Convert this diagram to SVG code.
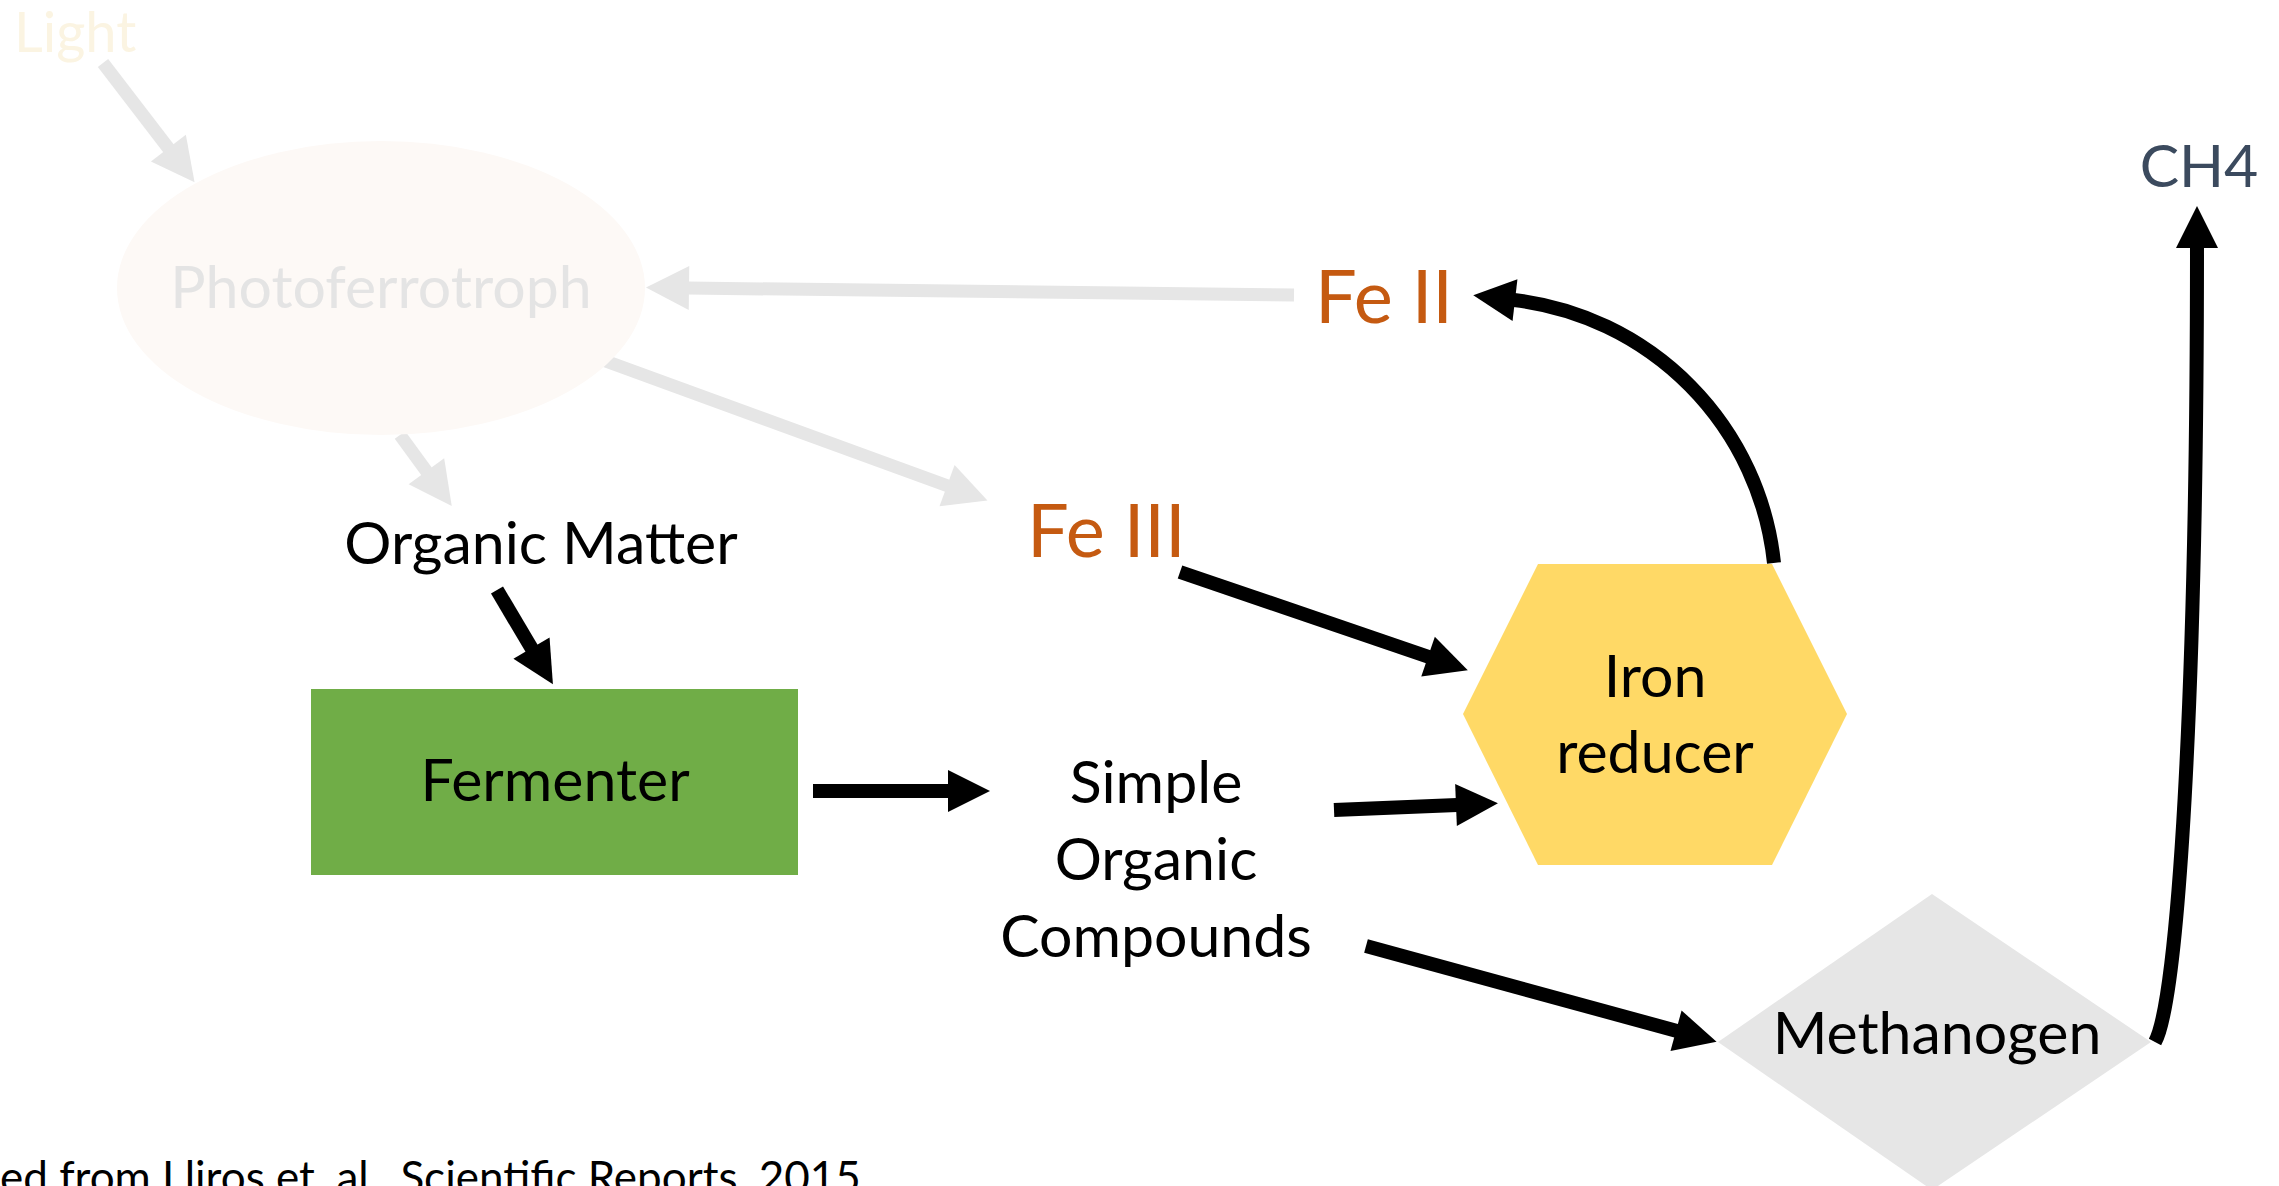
<svg xmlns="http://www.w3.org/2000/svg" width="2279" height="1186" viewBox="0 0 2279 1186">
  <style>
    text { font-family: Lato, "Open Sans", "Liberation Sans", sans-serif; }
    .lbl { font-size: 59px; fill: #000000; }
    .mid { text-anchor: middle; }
    .fe { font-size: 74px; fill: #C55A11; }
    .faded { fill: #E4E4E4; }
    .gray { fill: none; stroke: #E6E6E6; stroke-width: 13; }
    .blk { fill: none; stroke: #000000; stroke-width: 14; }
  </style>
  <defs>
    <marker id="hb" markerUnits="userSpaceOnUse" markerWidth="44" markerHeight="44" refX="1" refY="21" orient="auto" overflow="visible">
      <path d="M0,0 L42,21 L0,42 Z" fill="#000000"/>
    </marker>
    <marker id="hg" markerUnits="userSpaceOnUse" markerWidth="46" markerHeight="46" refX="1" refY="22" orient="auto" overflow="visible">
      <path d="M0,0 L43,22 L0,44 Z" fill="#E6E6E6"/>
    </marker>
  </defs>
  <rect x="0" y="0" width="2279" height="1186" fill="#FFFFFF"/>

  <g id="connectors">
    <line class="gray" x1="103" y1="63" x2="169" y2="149" marker-end="url(#hg)"/>
    <line class="gray" x1="1294" y1="295" x2="688" y2="288" marker-end="url(#hg)"/>
    <line class="gray" x1="600" y1="359" x2="948" y2="486" marker-end="url(#hg)"/>
    <line class="gray" x1="400" y1="435" x2="427" y2="472" marker-end="url(#hg)"/>
    <line class="blk" x1="497" y1="590" x2="532" y2="649" marker-end="url(#hb)"/>
    <line class="blk" x1="813" y1="791" x2="949" y2="791" marker-end="url(#hb)"/>
    <line class="blk" x1="1180" y1="572" x2="1429" y2="657" marker-end="url(#hb)"/>
    <line class="blk" x1="1334" y1="810" x2="1457" y2="805" marker-end="url(#hb)"/>
    <line class="blk" x1="1366" y1="946" x2="1677" y2="1031" marker-end="url(#hb)"/>
    <path class="blk" d="M1774,563 A296,296 0 0 0 1514,300" marker-end="url(#hb)"/>
    <path class="blk" d="M2155,1042 C2178,1000 2197,700 2197,247" marker-end="url(#hb)"/>
  </g>

  <g id="light">
    <text x="14" y="52" style="font-size:56px;fill:#FBF4E2">Light</text>
  </g>

  <g id="photoferrotroph">
    <ellipse cx="381" cy="288" rx="264" ry="147" fill="#FDF9F6"/>
    <text class="lbl mid faded" x="381" y="308">Photoferrotroph</text>
  </g>

  <g id="fe2">
    <text class="fe" x="1315" y="323">Fe II</text>
  </g>

  <g id="fe3">
    <text class="fe" x="1027" y="557">Fe III</text>
  </g>

  <g id="organic-matter">
    <text class="lbl mid" x="541" y="564">Organic Matter</text>
  </g>

  <g id="fermenter">
    <rect x="311" y="689" width="487" height="186" fill="#70AD47"/>
    <text class="lbl mid" x="555" y="801">Fermenter</text>
  </g>

  <g id="simple-organic-compounds">
    <text class="lbl mid" x="1156" y="803">Simple</text>
    <text class="lbl mid" x="1156" y="880">Organic</text>
    <text class="lbl mid" x="1156" y="957">Compounds</text>
  </g>

  <g id="iron-reducer">
    <polygon points="1538,564 1772,564 1847,714 1772,865 1538,865 1463,714" fill="#FFD966"/>
    <text class="lbl mid" x="1655" y="697">Iron</text>
    <text class="lbl mid" x="1655" y="773">reducer</text>
  </g>

  <g id="methanogen">
    <polygon points="1932,894 2151,1042 1932,1190 1718,1042" fill="#E6E6E6"/>
    <text class="lbl mid" x="1937" y="1054">Methanogen</text>
  </g>

  <g id="ch4">
    <text class="lbl mid" x="2199" y="187" style="fill:#3B4A5E">CH4</text>
  </g>

  <g id="citation">
    <text x="0" y="1193" style="font-size:44px;fill:#000000">ed from Lliros et. al., Scientific Reports, 2015</text>
  </g>
</svg>
